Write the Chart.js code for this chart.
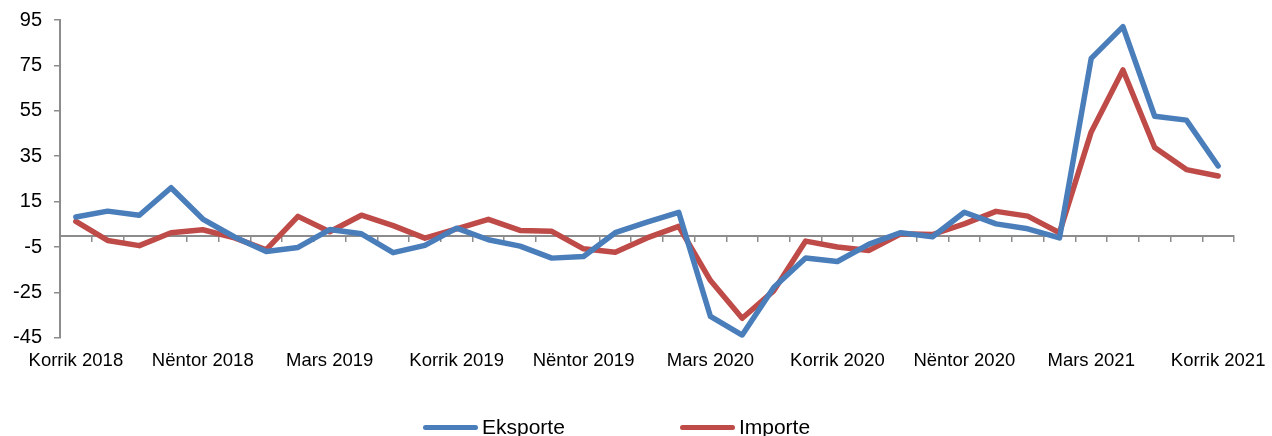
<!DOCTYPE html>
<html>
<head>
<meta charset="utf-8">
<script src="https://cdn.jsdelivr.net/npm/chart.js@4"></script>
<style>
  html, body { margin: 0; padding: 0; background: #fff; overflow: hidden; }
  #wrap { position: relative; width: 1272px; height: 436px; }
  #legend {
    position: absolute; left: 423px; top: 415px; height: 24px;
    display: flex; align-items: center;
    font-family: "Liberation Sans", Arial, sans-serif; font-size: 21px; line-height: 24px; color: #000;
  }
  .item { display: flex; align-items: center; margin-right: 115px; }
  .swatch { width: 55px; height: 5px; border-radius: 3px; margin-right: 4px; }
</style>
</head>
<body>
<div id="wrap">
  <canvas id="tradeChart" width="1272" height="436"></canvas>
  <div id="legend"></div>
</div>
<script>
// months, Korrik 2018 .. Korrik 2021
const months = [
  "Korrik 2018", "Gusht 2018", "Shtator 2018", "Tetor 2018", "Nëntor 2018", "Dhjetor 2018",
  "Janar 2019", "Shkurt 2019", "Mars 2019", "Prill 2019", "Maj 2019", "Qershor 2019",
  "Korrik 2019", "Gusht 2019", "Shtator 2019", "Tetor 2019", "Nëntor 2019", "Dhjetor 2019",
  "Janar 2020", "Shkurt 2020", "Mars 2020", "Prill 2020", "Maj 2020", "Qershor 2020",
  "Korrik 2020", "Gusht 2020", "Shtator 2020", "Tetor 2020", "Nëntor 2020", "Dhjetor 2020",
  "Janar 2021", "Shkurt 2021", "Mars 2021", "Prill 2021", "Maj 2021", "Qershor 2021",
  "Korrik 2021"
];

// labels shown under the axis
const tickLabels = [
  "Korrik 2018", "Nëntor 2018", "Mars 2019", "Korrik 2019", "Nëntor 2019",
  "Mars 2020", "Korrik 2020", "Nëntor 2020", "Mars 2021", "Korrik 2021"
];

const eksporte = [
  8.2, 10.8, 9.0, 21.1, 7.3, -0.6, -7.0, -5.2, 2.7, 0.8, -7.5, -4.3,
  3.3, -1.8, -4.6, -9.9, -9.2, 1.3, 6.0, 10.3, -35.6, -43.8, -22.7, -9.8,
  -11.4, -3.7, 1.3, -0.5, 10.3, 5.2, 3.0, -1.0, 78.1, 92.1, 52.6, 50.9,
  30.7
];

const importe = [
  6.3, -2.1, -4.4, 1.3, 2.6, -1.0, -6.2, 8.5, 1.7, 9.0, 4.4, -1.1,
  3.0, 7.2, 2.3, 1.9, -5.8, -7.3, -1.0, 4.1, -19.8, -36.4, -24.2, -2.4,
  -5.0, -6.5, 0.8, 0.5, 5.2, 10.7, 8.6, 1.3, 45.7, 73.0, 38.8, 29.1,
  26.3
];

const yTicks = { min: -45, max: 95, step: 20 };

const axisGray = "#8c8c8c";
const fontFamily = "'Liberation Sans', Arial, sans-serif";

Chart.defaults.color = "#000";

const chart = new Chart(document.getElementById("tradeChart").getContext("2d"), {
  type: "line",
  data: {
    labels: months,
    datasets: [
      {
        label: "Eksporte",
        data: eksporte,
        borderColor: "#4a7ebb",
        backgroundColor: "#4a7ebb",
        borderWidth: 5.5,
        pointRadius: 0,
        tension: 0,
        borderJoinStyle: "round",
        borderCapStyle: "round"
      },
      {
        label: "Importe",
        data: importe,
        borderColor: "#be4b48",
        backgroundColor: "#be4b48",
        borderWidth: 5.5,
        pointRadius: 0,
        tension: 0,
        borderJoinStyle: "round",
        borderCapStyle: "round"
      }
    ]
  },
  options: {
    responsive: false,
    animation: false,
    devicePixelRatio: 1,
    layout: { padding: { top: 20, right: 38, bottom: 52, left: 0 } },
    plugins: {
      legend: { display: false },
      tooltip: { enabled: false }
    },
    scales: {
      x: {
        type: "category",
        position: "bottom",
        offset: true,
        afterFit: s => { s.paddingLeft = 0; s.paddingRight = 0; },
        grid: { display: false, drawTicks: false },
        border: { display: false },
        ticks: {
          autoSkip: false,
          maxRotation: 0,
          padding: 12,
          font: { family: fontFamily, size: 18.5 },
          callback: function (value) {
            const lbl = this.getLabelForValue(value);
            return tickLabels.includes(lbl) ? lbl : "";
          }
        }
      },
      // horizontal axis line crossing at zero, with tick marks
      x2: {
        type: "category",
        axis: "x",
        position: { y: 0 },
        offset: true,
        grid: {
          display: true,
          offset: true,
          drawOnChartArea: false,
          drawTicks: true,
          tickLength: 5,
          color: axisGray,
          lineWidth: 1.5
        },
        border: { display: true, color: axisGray, width: 2 },
        ticks: { display: false, autoSkip: false }
      },
      y: {
        min: yTicks.min,
        max: yTicks.max,
        afterFit: s => { s.width = 60; s.paddingTop = 0; s.paddingBottom = 0; },
        grid: {
          display: true,
          drawOnChartArea: false,
          drawTicks: true,
          tickLength: 6,
          color: axisGray,
          lineWidth: 1.5
        },
        border: { display: true, color: axisGray, width: 2 },
        ticks: { stepSize: yTicks.step, padding: 12, font: { family: fontFamily, size: 20 } }
      }
    }
  }
});

// html legend built from the datasets
const legendEl = document.getElementById("legend");
chart.data.datasets.forEach(ds => {
  const item = document.createElement("div");
  item.className = "item";
  const sw = document.createElement("span");
  sw.className = "swatch";
  sw.style.background = ds.borderColor;
  const txt = document.createElement("span");
  txt.textContent = ds.label;
  item.appendChild(sw);
  item.appendChild(txt);
  legendEl.appendChild(item);
});
</script>
</body>
</html>
